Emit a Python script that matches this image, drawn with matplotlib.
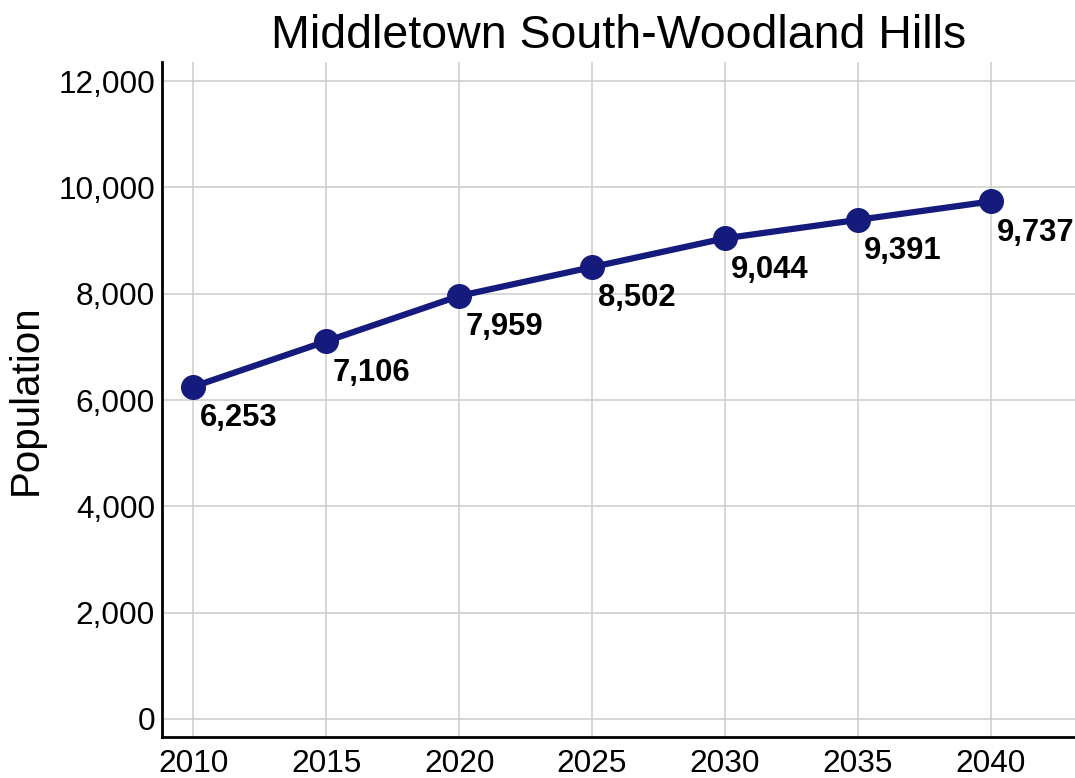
import matplotlib
matplotlib.use("Agg")
import matplotlib.pyplot as plt
from matplotlib.ticker import FuncFormatter

# data
years = [2010, 2015, 2020, 2025, 2030, 2035, 2040]
population = [6253, 7106, 7959, 8502, 9044, 9391, 9737]
title = "Middletown South-Woodland Hills"
ylabel = "Population"

plt.rcParams['font.family'] = ['Liberation Sans', 'DejaVu Sans']

fig = plt.figure(figsize=(10.75, 7.78), dpi=100)
ax = fig.add_axes([0.1507, 0.0527, 0.8493, 0.8676])

navy = '#141B7D'
ax.plot(years, population, color=navy, linewidth=4.5, marker='o',
        markersize=17, zorder=3, solid_capstyle='round')

for x, y in zip(years, population):
    ax.annotate(f'{y:,}', (x, y), xytext=(4.5, -22.5), textcoords='offset points',
                ha='left', va='center', fontsize=22.3, fontweight='bold',
                color='black', zorder=4, annotation_clip=False)

ax.set_xlim(2008.82, 2043.17)
ax.set_ylim(-339, 12361)
ax.set_xticks(years)
ax.set_yticks(range(0, 12001, 2000))
ax.yaxis.set_major_formatter(FuncFormatter(lambda v, p: f'{int(v):,}'))

ax.grid(True, color='#cccccc', linewidth=1.1)
ax.set_axisbelow(True)
for side in ['top', 'right']:
    ax.spines[side].set_visible(False)
for side in ['left', 'bottom']:
    ax.spines[side].set_linewidth(2)
    ax.spines[side].set_color('black')

ax.tick_params(axis='both', length=0, labelsize=22.8)
ax.tick_params(axis='y', pad=5)
ax.tick_params(axis='x', pad=9)

ax.set_ylabel(ylabel, fontsize=29, labelpad=10)
ax.set_title(title, fontsize=33.5, pad=10)

fig.savefig('out.png', dpi=100)
